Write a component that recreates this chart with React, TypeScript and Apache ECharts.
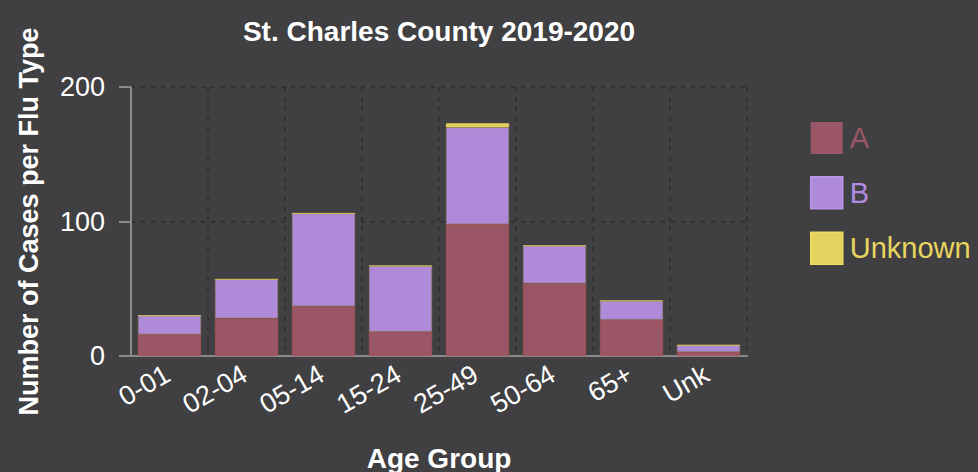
import React, { useEffect, useRef } from "react";
import * as echarts from "echarts";

const categories = ["0-01", "02-04", "05-14", "15-24", "25-49", "50-64", "65+", "Unk"];
const seriesA = [16, 28, 37, 18, 98, 54, 27, 3];
const seriesB = [14, 29, 69, 49, 72, 28, 14, 5];
const seriesUnknown = [0, 0, 0, 0, 3, 0, 0, 0];
const yTicks = [0, 100, 200];

const BG = "#404042";
const FONT = "'Liberation Sans', Arial, sans-serif";

export default function App() {
  const ref = useRef<HTMLDivElement>(null);
  useEffect(() => {
    if (!ref.current) return;
    const chart = echarts.init(ref.current, undefined, { renderer: "svg" });
    const mk = (name: string, data: number[], color: string, border: string) => ({
      name,
      type: "bar",
      stack: "total",
      data,
      barCategoryGap: "18%",
      itemStyle: { color, borderColor: border, borderWidth: 0.6 },
      emphasis: { disabled: true },
    });
    chart.setOption({
      animation: false,
      backgroundColor: BG,
      textStyle: { fontFamily: FONT },
      title: {
        text: "St. Charles County 2019-2020",
        left: 434,
        textAlign: "center",
        top: 12,
        textStyle: { color: "#ffffff", fontSize: 28, fontWeight: "bold", fontFamily: FONT },
      },
      legend: {
        orient: "vertical",
        left: 805,
        top: 117,
        itemWidth: 32,
        itemHeight: 32,
        itemGap: 22,
        icon: "rect",
        data: [
          { name: "A", textStyle: { color: "#9a5566" }, itemStyle: { borderWidth: 0 } },
          { name: "B", textStyle: { color: "#b08ce0" }, itemStyle: { borderColor: "#b896e8", borderWidth: 1.5 } },
          { name: "Unknown", textStyle: { color: "#e8d55e" }, itemStyle: { borderColor: "#f0dc60", borderWidth: 1.5 } },
        ],
        textStyle: { fontSize: 29, fontFamily: FONT, padding: [0, 0, 0, 2] },
      },
      grid: { left: 131, right: 231, top: 87, bottom: 116, outerBoundsMode: "none", containLabel: false },
      xAxis: {
        type: "category",
        data: categories,
        name: "Age Group",
        nameLocation: "middle",
        nameGap: 88,
        nameTextStyle: { color: "#ffffff", fontSize: 28, fontWeight: "bold", fontFamily: FONT },
        axisLine: { lineStyle: { color: "#8a8a8a", width: 2 } },
        axisTick: { alignWithLabel: true, length: 9, lineStyle: { color: "#8a8a8a", width: 2 } },
        axisLabel: { color: "#ffffff", fontSize: 27, rotate: 30, margin: 15, padding: [0, 2, 0, 0], fontFamily: FONT },
        splitLine: { show: true, lineStyle: { color: "#2c2c2e", type: [4, 6], width: 1.5 } },
      },
      yAxis: {
        type: "value",
        min: 0,
        max: yTicks[yTicks.length - 1],
        interval: 100,
        name: "Number of Cases per Flu Type",
        nameLocation: "middle",
        nameGap: 89,
        nameTextStyle: { color: "#ffffff", fontSize: 27, fontWeight: "bold", fontFamily: FONT },
        axisLine: { show: true, lineStyle: { color: "#8a8a8a", width: 2 } },
        axisTick: { show: true, length: 12, lineStyle: { color: "#8a8a8a", width: 2 } },
        axisLabel: { color: "#ffffff", fontSize: 27, margin: 26, fontFamily: FONT },
        splitLine: { show: true, lineStyle: { color: "#2c2c2e", type: [4, 6], width: 1.5 } },
      },
      series: [
        mk("A", seriesA, "#9a5566", "#b0564e"),
        mk("B", seriesB, "#ae8ad8", "#8c7a5e"),
        mk("Unknown", seriesUnknown, "#e5d25e", "#e5d25e"),
      ],
    });
    return () => chart.dispose();
  }, []);
  return <div ref={ref} style={{ width: 978, height: 472, position: "fixed", left: 0, top: 0 }} />;
}
